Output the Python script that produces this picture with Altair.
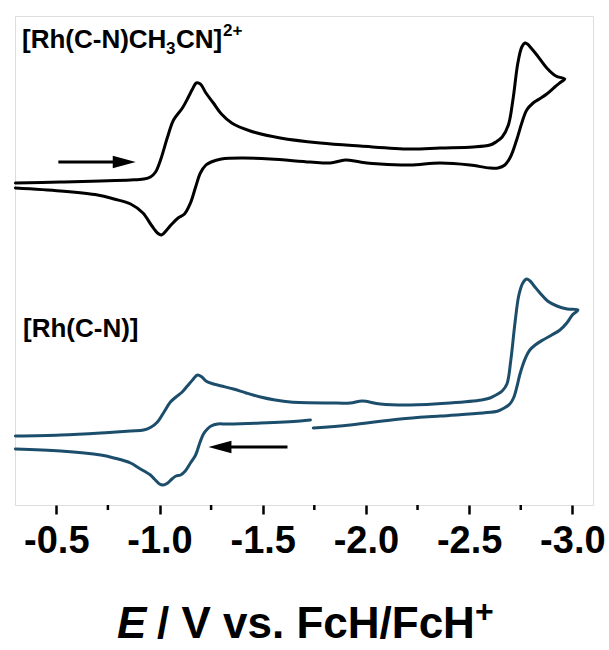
import altair as alt
import pandas as pd

# ---------------- data ----------------
# [Rh(C-N)CH3CN]2+  (black), potential (V vs FcH/FcH+) and current (a.u.)
black_E = [-0.302, -0.521, -0.715, -0.860, -0.923, -0.956, -0.981, -1.005, -1.039, -1.068,
           -1.111, -1.140, -1.160, -1.178, -1.198, -1.225, -1.261, -1.300, -1.350, -1.440,
           -1.585, -1.779, -1.972, -2.214, -2.359, -2.520, -2.601, -2.630, -2.660, -2.690,
           -2.712, -2.736, -2.755, -2.770, -2.782, -2.800, -2.828, -2.876, -2.920, -2.963,
           -2.945, -2.915, -2.876, -2.840, -2.810, -2.779, -2.755, -2.730, -2.700, -2.673,
           -2.640, -2.600, -2.504, -2.359, -2.214, -2.069, -1.972, -1.900, -1.827, -1.730,
           -1.537, -1.400, -1.300, -1.250, -1.225, -1.198, -1.175, -1.150, -1.121, -1.090,
           -1.060, -1.035, -1.010, -0.990, -0.960, -0.920, -0.860, -0.780, -0.700, -0.521,
           -0.302]
black_I = [322, 323, 324, 325, 326, 328, 333, 345, 368, 385,
           397, 408, 416, 422, 421, 412, 402, 391, 382, 374,
           367, 362, 359, 356, 357, 358, 360, 363, 368, 380,
           405, 442, 458, 462, 461, 457, 450, 437, 429, 426,
           423, 418, 411, 406, 402, 395, 382, 365, 348, 340,
           337, 337, 340, 342, 340, 341, 343, 345, 342, 343,
           346, 347, 346, 343, 340, 332, 318, 302, 291, 287,
           281, 275, 270, 272, 280, 292, 301, 306, 310, 314,
           317]

# [Rh(C-N)] (blue): forward scan + return down to the break
blue_E_a = [-0.302, -0.521, -0.715, -0.860, -0.923, -0.960, -0.990, -1.019, -1.053, -1.080,
            -1.110, -1.135, -1.160, -1.184, -1.205, -1.225, -1.261, -1.300, -1.358, -1.420,
            -1.489, -1.560, -1.634, -1.827, -1.924, -1.982, -2.069, -2.214, -2.407, -2.560,
            -2.601, -2.630, -2.660, -2.683, -2.702, -2.722, -2.741, -2.760, -2.778, -2.795,
            -2.815, -2.843, -2.880, -2.925, -2.975, -3.027,
            -3.000, -2.973, -2.940, -2.900, -2.857, -2.820, -2.794, -2.775, -2.760, -2.745,
            -2.731, -2.715, -2.697, -2.670, -2.640, -2.567, -2.359, -2.166, -1.924, -1.745]
blue_I_a = [69, 70, 72, 74, 75, 78, 83, 92, 103, 108,
            113, 119, 125, 130, 128, 124, 121, 119, 116, 112,
            108, 105, 103, 102, 102, 104, 101, 100, 102, 105,
            107, 110, 114, 121, 145, 182, 210, 222, 226, 224,
            219, 212, 204, 199, 196, 195,
            190, 182, 175, 170, 165, 160, 155, 148, 140, 130,
            118, 107, 101, 97, 94, 92, 89, 86, 80, 77]
# [Rh(C-N)] (blue): rest of the return scan after the break
blue_E_b = [-1.731, -1.682, -1.489, -1.330, -1.281, -1.250, -1.232, -1.213, -1.195, -1.175,
            -1.150, -1.125, -1.102, -1.080, -1.060, -1.040, -1.019, -1.000, -0.975, -0.956,
            -0.900, -0.860, -0.780, -0.715, -0.521, -0.302]
blue_I_b = [85, 84, 82, 81, 81, 79, 76, 71, 62, 50,
            42, 34, 30, 29, 26, 22, 20, 21, 26, 30,
            37, 42, 47, 50, 54, 56]

# scan-direction arrows: tail potential, tip potential, current level
arrow_tail = [-0.51, -1.62]
arrow_tip = [-0.885, -1.237]
arrow_I = [343, 58]

major_ticks = [-0.5, -1.0, -1.5, -2.0, -2.5, -3.0]
minor_ticks = [-0.75, -1.25, -1.75, -2.25, -2.75]

# ---------------- chart ----------------
W, H = 578, 489
FONT = "Liberation Sans, Arial, Helvetica, sans-serif"
BLUE = "#1c4e6c"

rows = []
for i, (e, c) in enumerate(zip(black_E, black_I)):
    rows.append({"E": e, "I": c, "o": i, "seg": "black"})
for i, (e, c) in enumerate(zip(blue_E_a, blue_I_a)):
    rows.append({"E": e, "I": c, "o": i, "seg": "blue_a"})
for i, (e, c) in enumerate(zip(blue_E_b, blue_I_b)):
    rows.append({"E": e, "I": c, "o": i, "seg": "blue_b"})
df = pd.DataFrame(rows)

xs = alt.Scale(domain=[-3.1, -0.3], reverse=True, nice=False, zero=False)
ys = alt.Scale(domain=[0, H], nice=False, zero=False)

xax = alt.Axis(values=major_ticks, labelExpr="'-' + format(abs(datum.value), '.1f')",
               title=None, domain=False, grid=False,
               tickSize=9, tickWidth=2.5, tickColor="black", labelFontSize=38,
               labelFont=FONT, labelFontWeight="bold", labelColor="black",
               labelPadding=8, labelFlush=False, labelOverlap=False)

lines = alt.Chart(df).mark_line(strokeWidth=3, strokeJoin="round", strokeCap="round",
                                interpolate="catmull-rom").encode(
    x=alt.X("E:Q", scale=xs, axis=xax),
    y=alt.Y("I:Q", scale=ys, axis=None),
    detail="seg:N",
    order="o:Q",
    color=alt.Color("seg:N", scale=alt.Scale(domain=["black", "blue_a", "blue_b"],
                                             range=["#000000", BLUE, BLUE]), legend=None),
)

adf = pd.DataFrame({"tail": arrow_tail, "tip": arrow_tip, "I": arrow_I,
                    "dir": ["right", "left"]})
adf["shaft_end"] = adf["tip"] + adf["dir"].map({"right": 0.05, "left": -0.05})

shafts = alt.Chart(adf).mark_rule(strokeWidth=3, color="black").encode(
    x=alt.X("tail:Q", scale=xs), x2="shaft_end", y=alt.Y("I:Q", scale=ys))

head_r = alt.Chart(adf[adf["dir"] == "right"]).mark_point(
    shape="M0,0L-2,-0.55L-2,0.55Z", size=529, filled=True, color="black", opacity=1
).encode(x=alt.X("tip:Q", scale=xs), y=alt.Y("I:Q", scale=ys))
head_l = alt.Chart(adf[adf["dir"] == "left"]).mark_point(
    shape="M0,0L2,-0.55L2,0.55Z", size=529, filled=True, color="black", opacity=1
).encode(x=alt.X("tip:Q", scale=xs), y=alt.Y("I:Q", scale=ys))

minor = alt.Chart(pd.DataFrame({"E": minor_ticks})).mark_rule(
    color="black", strokeWidth=2.5).encode(
    x=alt.X("E:Q", scale=xs), y=alt.value(H), y2=alt.value(H + 5))


def txt(s, x, y, size, style="normal"):
    return alt.Chart(alt.Data(values=[{}])).mark_text(
        text=s, font=FONT, fontSize=size, fontWeight="bold", fontStyle=style,
        align="left", baseline="alphabetic", color="black"
    ).encode(x=alt.value(x), y=alt.value(y))


labels = [
    txt("[Rh(C-N)CH", 7, 32, 26),
    txt("3", 151, 38, 17),
    txt("CN]", 161, 32, 26),
    txt("2+", 208, 20, 17),
    txt("[Rh(C-N)]", 8, 321, 26),
    # x-axis title
    txt("E", 102, 622, 44, "italic"),
    txt("/ V vs. FcH/FcH", 142, 622, 44),
    txt("+", 460, 606, 32),
]

chart = alt.layer(lines, shafts, head_r, head_l, minor, *labels).properties(
    width=W, height=H,
    autosize=alt.AutoSizeParams(type="none"),
    padding={"left": 15, "top": 16, "right": 16, "bottom": 145},
).configure_view(stroke="black", strokeWidth=2.5).configure(background="white")

chart.save("out.html", embed_options={"renderer": "svg", "actions": False})
